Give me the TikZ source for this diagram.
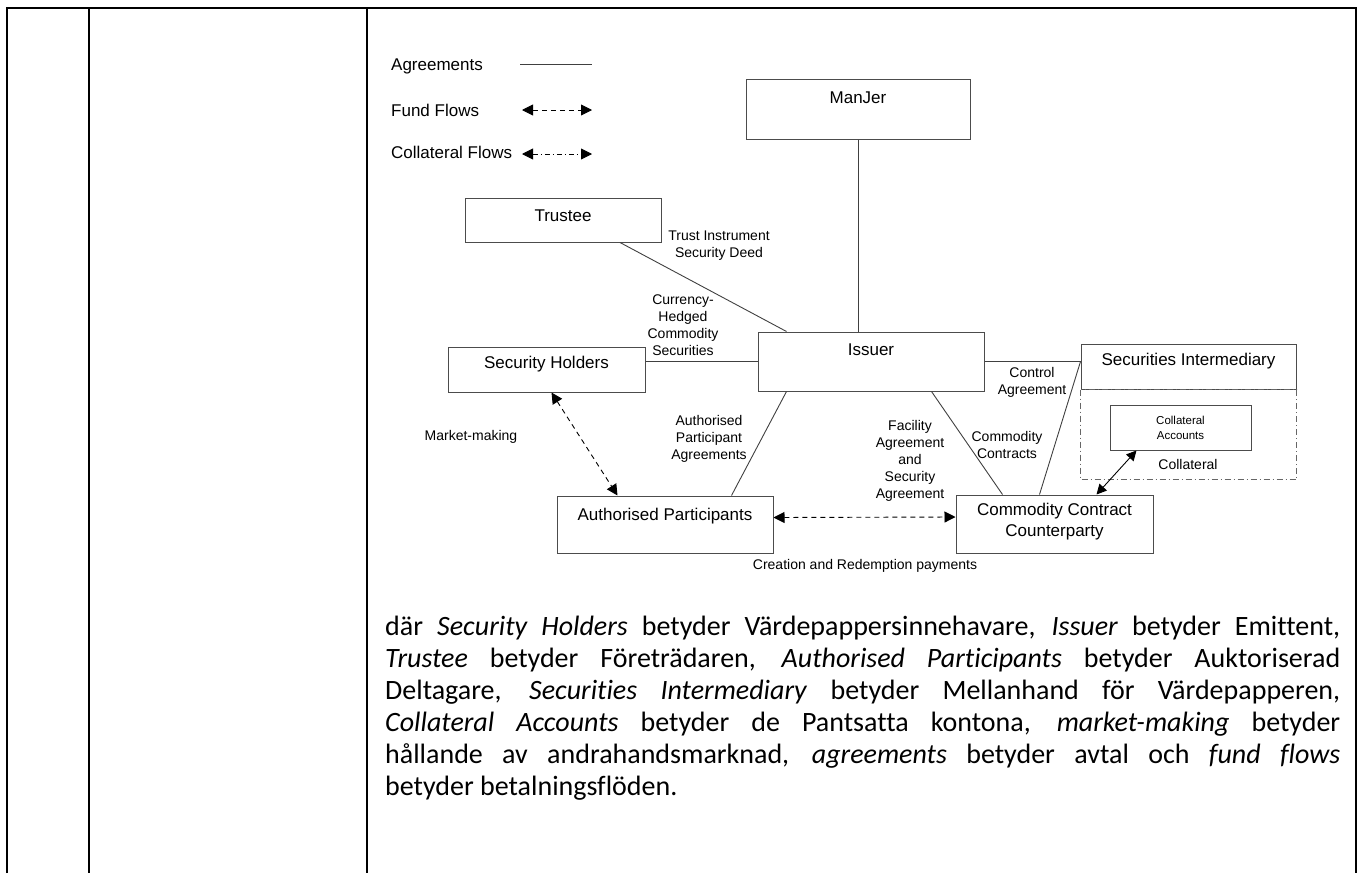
\documentclass[tikz,border=0pt]{standalone}
\usepackage{fontspec}
\newfontfamily\diafont{Liberation Sans}
\newfontfamily\parafont{Carlito}[Ligatures=NoCommon]
\usetikzlibrary{calc,arrows.meta,positioning}

\begin{document}
\begin{tikzpicture}[x=1pt,y=-1pt,
    tbl/.style={line width=2.4pt},
    agree/.style={line width=0.9pt, draw=black!75},
    fund/.style={line width=0.9pt, dash pattern=on 5pt off 4pt, {Triangle[length=11pt,width=11pt]}-{Triangle[length=11pt,width=11pt]}},
    coll/.style={line width=0.9pt, dash pattern=on 5pt off 3pt on 1pt off 3pt, {Triangle[length=11pt,width=11pt]}-{Triangle[length=11pt,width=11pt]}},
    box/.style 2 args={draw=black!70, line width=1pt, minimum width=#1pt, minimum height=#2pt, inner sep=0pt},
    boxlbl/.style={anchor=center, yshift=-#1pt, inner sep=0pt, align=center, font=\diafont\fontsize{17}{21}\selectfont},
    lbl/.style={inner sep=0pt, align=center, font=\diafont\fontsize{14}{17}\selectfont},
    legtxt/.style={inner sep=0pt, anchor=west, font=\diafont\fontsize{17}{20}\selectfont},
    para/.style={inner sep=0pt, anchor=north west, align=left, font=\parafont\fontsize{28}{32}\selectfont}]
    \useasboundingbox (0,0) rectangle (1363,873);
    % table frame
    \draw[tbl] (7,873) -- (7,8) -- (1356,8) -- (1356,873);
    \draw[tbl] (89,8) -- (89,873);
    \draw[tbl] (367,8) -- (367,873);

    % legend
    \node[legtxt] (lagr) at (391,66) {Agreements};
    \node[legtxt] (lfund) at (391,110) {Fund Flows};
    \node[legtxt] (lcoll) at (391,152) {Collateral Flows};
    \coordinate (agrA) at (520,64);
    \coordinate (agrB) at (592,64);
    \coordinate (fundA) at (522,110);
    \coordinate (fundB) at (592,110);
    \coordinate (collA) at (522,154);
    \coordinate (collB) at (592,154);
    \draw[agree] (agrA) -- (agrB);
    \draw[fund] (fundA) -- (fundB);
    \draw[coll] (collA) -- (collB);

    % parties
    \node[box={224}{60}, label={[boxlbl=19]north:ManJer}] (manjer) at (858,109) {};
    \node[box={196}{44}, label={[boxlbl=18]north:Trustee}] (trustee) at (563,220) {};
    \node[box={226}{59}, label={[boxlbl=18]north:Issuer}] (issuer) at (871,361.5) {};
    \node[box={197}{45}, label={[boxlbl=18]north:Security Holders}] (sh) at (546.5,369.5) {};
    \node[box={215}{45}, label={[boxlbl=18]north:Securities Intermediary}] (si) at (1188.5,366.5) {};
    \node[box={141}{45}, label={[lbl, font=\diafont\fontsize{11.5}{15}\selectfont]center:Collateral\\Accounts}] (ca) at (1180.5,427.5) {};
    \node[box={216}{57}, label={[boxlbl=21]north:Authorised Participants}] (ap) at (665,524.5) {};
    \node[box={197}{58}, label={[boxlbl=27.5]north:Commodity Contract\\Counterparty}] (ccc) at (1054.5,524) {};
    \draw[dash pattern=on 6pt off 3pt on 1pt off 3pt, draw=black!60, line width=0.9pt]
        (si.south west) rectangle ($(si.south east)+(0,90)$);

    % agreements
    \draw[agree] (manjer.south) -- (manjer.south |- issuer.north);
    \draw[agree] ($(trustee.south)+(57,0)$) -- ($(issuer.north west)+(29,0)$);
    \draw[agree] (issuer.west -| sh.east) -- (issuer.west);
    \draw[agree] (issuer.east) -- (issuer.east -| si.west);
    \draw[agree] (issuer.east -| si.west) -- ($(ccc.north west)+(84,0)$);
    \draw[agree] ($(issuer.south west)+(174,0)$) -- ($(ccc.north west)+(47,0)$);
    \draw[agree] ($(issuer.south west)+(29,0)$) -- ($(ap.north west)+(175,0)$);

    % flows
    \draw[fund] ($(sh.south west)+(104,0)$) -- ($(ap.north west)+(61,0)$);
    \draw[fund] ($(ap.east)+(0,-7)$) -- ($(ccc.west)+(0,-7)$);
    \draw[line width=0.9pt, {Triangle[length=10pt,width=10pt]}-{Triangle[length=10pt,width=10pt]}]
        ($(ca.south west)+(27,0)$) -- ($(ccc.north west)+(141,0)$);

    % labels
    \node[lbl] (ltrust) at (719,246) {Trust Instrument\\Security Deed};
    \node[lbl] (lchcs) at (683,325) {Currency-\\Hedged\\Commodity\\Securities};
    \node[lbl] (lmm) at (471,437) {Market-making};
    \node[lbl] (lapa) at (709,439) {Authorised\\Participant\\Agreements};
    \node[lbl] (lfac) at (910,461) {Facility\\Agreement\\and\\Security\\Agreement};
    \node[lbl] (lcc) at (1007,445) {Commodity\\Contracts};
    \node[lbl] (lctrl) at (1032,382) {Control\\Agreement};
    \node[lbl] (lcol) at (1188,464) {Collateral};
    \node[lbl] (lcrp) at (865,566) {Creation and Redemption payments};

    % explanation
    \node[para] (expl) at (385,616) {%
      \makebox[955pt][s]{där \textit{Security Holders} betyder Värdepappersinnehavare, \textit{Issuer} betyder Emittent,}\\
      \makebox[955pt][s]{\textit{Trustee} betyder Företrädaren, \textit{Authorised Participants} betyder Auktoriserad}\\
      \makebox[955pt][s]{Deltagare, \textit{Securities Intermediary} betyder Mellanhand för Värdepapperen,}\\
      \makebox[955pt][s]{\textit{Collateral Accounts} betyder de Pantsatta kontona, \textit{market-making} betyder}\\
      \makebox[955pt][s]{hållande av andrahandsmarknad, \textit{agreements} betyder avtal och \textit{fund flows}}\\
      betyder betalningsflöden.};
\end{tikzpicture}
\end{document}
